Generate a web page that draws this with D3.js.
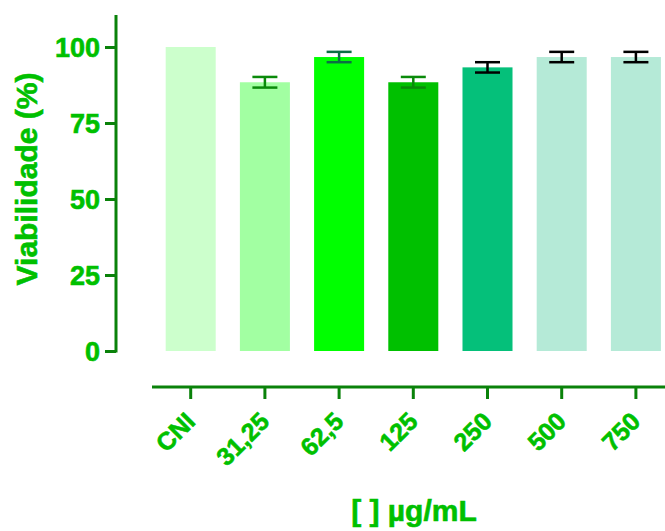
<!DOCTYPE html>
<html>
<head>
<meta charset="utf-8">
<script src="https://cdn.jsdelivr.net/npm/d3@7"></script>
<style>
  html, body { margin: 0; padding: 0; background: #ffffff; }
  svg { display: block; font-family: Arial, "Liberation Sans", sans-serif; }
</style>
</head>
<body>
<svg id="chart" width="665" height="531"></svg>
<script>
// Cell viability by concentration
const categories = ["CNI", "31,25", "62,5", "125", "250", "500", "750"];
const viability = [100, 88.4, 96.7, 88.4, 93.3, 96.7, 96.7];
const errors = [0, 1.75, 1.7, 1.75, 1.7, 1.7, 1.7];
const barColors = ["#ccffcc", "#a2ffa2", "#00ff00", "#00c000", "#05c07a", "#b5ead7", "#b5ead7"];
const errColors = ["#0a8a0a", "#0a8a0a", "#0b6e45", "#0a8a0a", "#000000", "#000000", "#000000"];
const yTicks = [0, 25, 50, 75, 100];

const textGreen = "#00c000";
const axisGreen = "#0a820a";

const svg = d3.select("#chart");

const y = d3.scaleLinear().domain([0, 100]).range([351, 47]);
const x = d3.scaleBand().domain(categories).range([141.5, 685.1])
  .paddingInner(0.326).paddingOuter(0.326);

// heavy green label text
const heavy = sel => sel
  .attr("fill", textGreen)
  .attr("stroke", textGreen)
  .attr("stroke-width", 0.6)
  .attr("font-weight", "bold");

// Bars
svg.append("g").selectAll("rect")
  .data(categories)
  .join("rect")
  .attr("x", d => x(d))
  .attr("width", x.bandwidth())
  .attr("y", (d, i) => y(viability[i]))
  .attr("height", (d, i) => y(0) - y(viability[i]))
  .attr("fill", (d, i) => barColors[i]);

// Error bars
const eg = svg.append("g").selectAll("g")
  .data(categories.map((c, i) => ({ c, v: viability[i], e: errors[i], col: errColors[i] })).filter(d => d.e > 0))
  .join("g")
  .attr("stroke", d => d.col)
  .attr("stroke-width", 2.5);
const cx = d => x(d.c) + x.bandwidth() / 2;
const capHalf = 12.5;
eg.append("line")
  .attr("x1", cx).attr("x2", cx)
  .attr("y1", d => y(d.v + d.e)).attr("y2", d => y(d.v - d.e));
eg.append("line")
  .attr("x1", d => cx(d) - capHalf).attr("x2", d => cx(d) + capHalf)
  .attr("y1", d => y(d.v + d.e)).attr("y2", d => y(d.v + d.e));
eg.append("line")
  .attr("x1", d => cx(d) - capHalf).attr("x2", d => cx(d) + capHalf)
  .attr("y1", d => y(d.v - d.e)).attr("y2", d => y(d.v - d.e));

// Y axis
const yAxis = svg.append("g")
  .attr("transform", "translate(116,0)")
  .call(d3.axisLeft(y).tickValues(yTicks).tickSize(11).tickPadding(5).tickSizeOuter(0));
yAxis.select(".domain").remove();
yAxis.append("line")
  .attr("x1", 0).attr("x2", 0).attr("y1", 15).attr("y2", 352.5)
  .attr("stroke", axisGreen).attr("stroke-width", 3);
yAxis.selectAll(".tick line").attr("stroke", axisGreen).attr("stroke-width", 3);
yAxis.selectAll(".tick text")
  .call(heavy)
  .attr("font-size", 27)
  .attr("dy", "0.36em");

// X axis
const xAxis = svg.append("g")
  .attr("transform", "translate(0,387)")
  .call(d3.axisBottom(x).tickSize(12).tickSizeOuter(0));
xAxis.select(".domain").remove();
xAxis.append("line")
  .attr("x1", 152).attr("x2", 665).attr("y1", 0).attr("y2", 0)
  .attr("stroke", axisGreen).attr("stroke-width", 3);
xAxis.selectAll(".tick line").attr("stroke", axisGreen).attr("stroke-width", 3);
xAxis.selectAll(".tick text")
  .call(heavy)
  .attr("font-size", 25)
  .attr("text-anchor", "end")
  .attr("y", 0).attr("dy", 0)
  .attr("transform", "translate(6,36) rotate(-45)");

// Axis titles
svg.append("text")
  .attr("transform", "translate(37,179) rotate(-90)")
  .attr("text-anchor", "middle")
  .call(heavy)
  .attr("font-size", 30)
  .text("Viabilidade (%)");

svg.append("text")
  .attr("x", 414).attr("y", 521)
  .attr("text-anchor", "middle")
  .call(heavy)
  .attr("font-size", 30)
  .text("[ ] µg/mL");
</script>
</body>
</html>
